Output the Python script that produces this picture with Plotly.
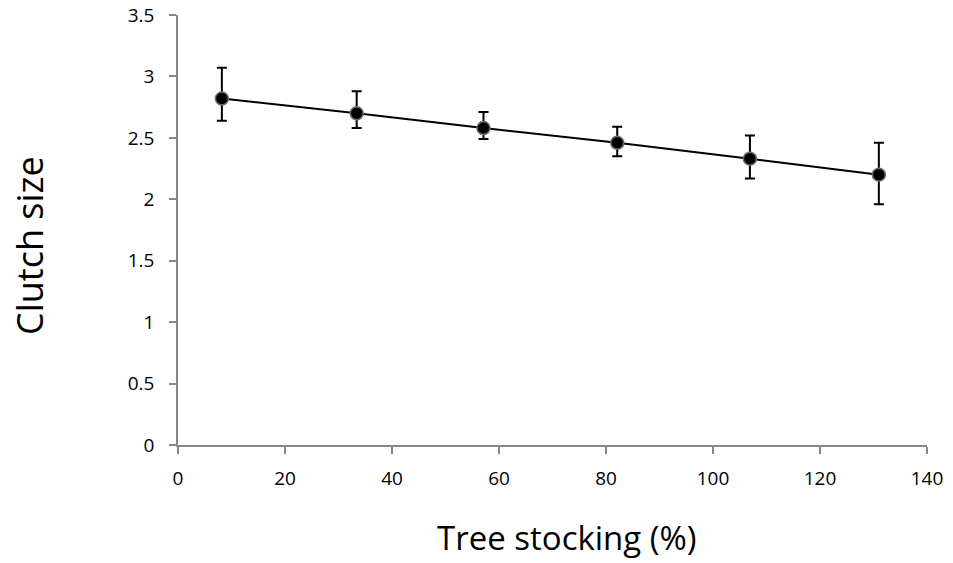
import plotly.graph_objects as go

stocking = [8.2, 33.4, 57.1, 82.1, 106.9, 131.0]
clutch = [2.82, 2.70, 2.58, 2.46, 2.33, 2.20]
err_upper = [3.07, 2.88, 2.71, 2.59, 2.52, 2.46]
err_lower = [2.64, 2.58, 2.49, 2.35, 2.17, 1.96]

x_title = "Tree stocking (%)"
y_title = "Clutch size"

plus = [u - c for u, c in zip(err_upper, clutch)]
minus = [c - l for l, c in zip(err_lower, clutch)]

fig = go.Figure()
fig.add_trace(go.Scatter(
    x=stocking, y=clutch, mode="lines+markers",
    line=dict(color="black", width=2),
    marker=dict(color="black", size=13, line=dict(color="#6e6e6e", width=1.5)),
    error_y=dict(type="data", symmetric=False, array=plus, arrayminus=minus,
                 color="black", thickness=2, width=5),
    showlegend=False,
))

font = "Open Sans, Liberation Sans, sans-serif"
axis_common = dict(showgrid=False, zeroline=False, automargin=False,
                   showline=True, linecolor="#878787", linewidth=1.5,
                   ticks="outside", tickcolor="#878787", ticklen=7, tickwidth=1.5,
                   tickfont=dict(size=19, family=font, color="black"))

fig.update_layout(
    width=953, height=563,
    margin=dict(l=178, r=26, t=15, b=118),
    plot_bgcolor="white", paper_bgcolor="white",
    font=dict(family=font, color="black"),
    xaxis=dict(range=[0, 140], dtick=20, ticklabelstandoff=8, **axis_common),
    yaxis=dict(range=[0, 3.5], dtick=0.5, ticklabelstandoff=11, **axis_common),
    annotations=[
        dict(text=x_title, xref="paper", yref="paper", x=0.519, y=-0.214,
             xanchor="center", yanchor="middle", showarrow=False,
             font=dict(size=33, family=font, color="black")),
        dict(text=y_title, xref="paper", yref="paper", x=-0.199, y=0.465,
             xanchor="center", yanchor="middle", showarrow=False, textangle=-90,
             font=dict(size=36, family=font, color="black")),
    ],
)

fig.write_html("out.html", config={"displayModeBar": False},
               post_script="document.body.style.margin='0';")
